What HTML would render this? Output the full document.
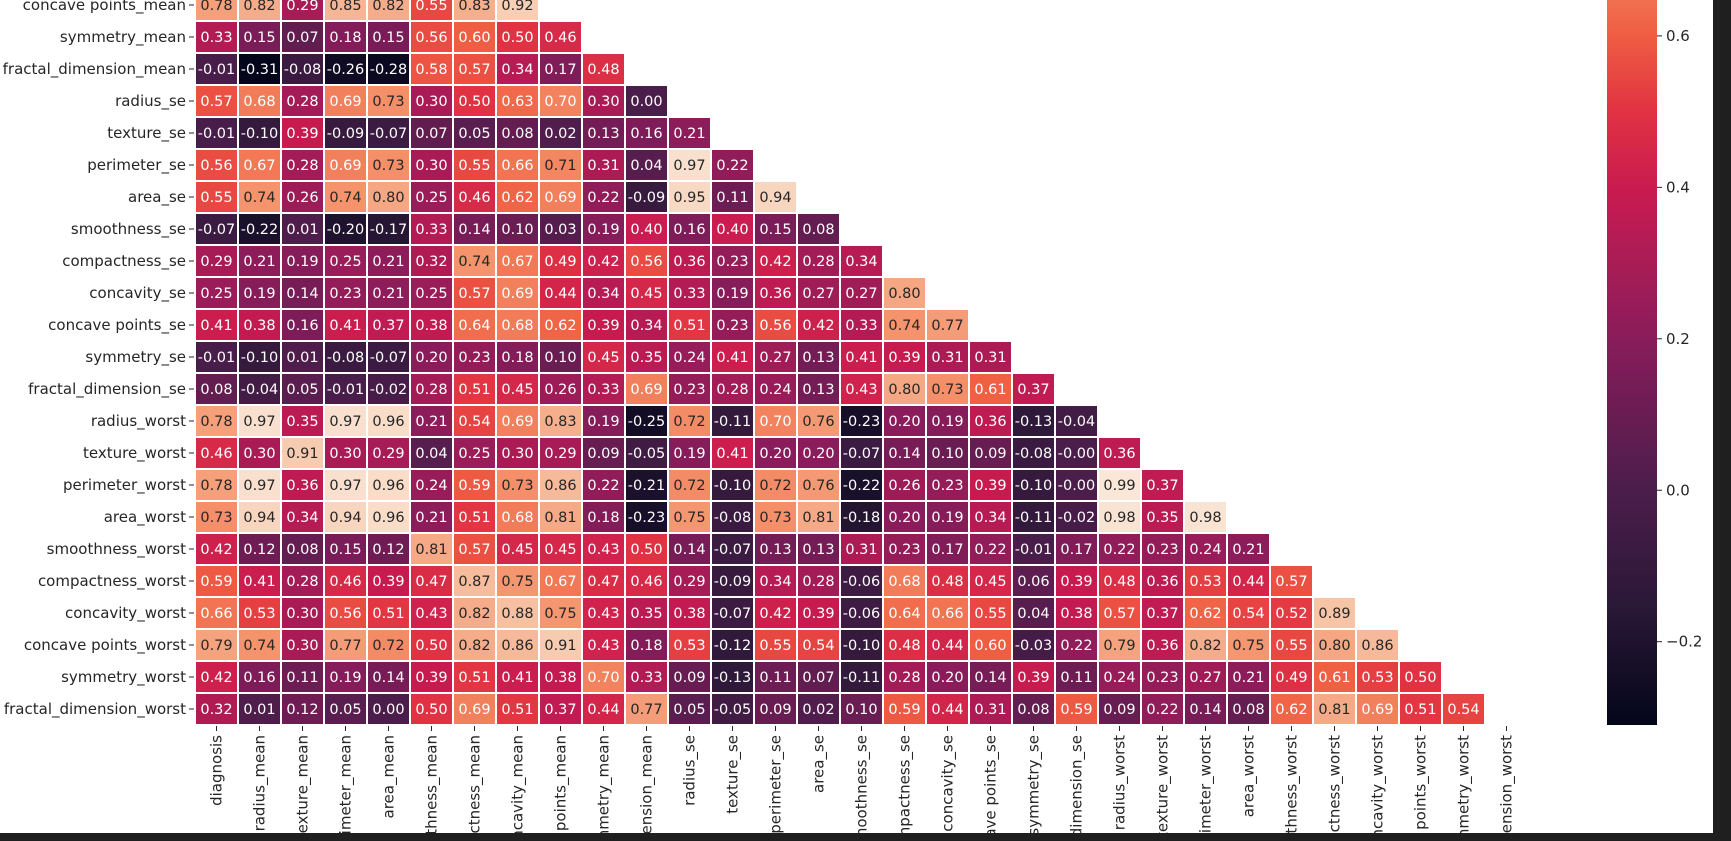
<!DOCTYPE html>
<html><head><meta charset="utf-8"><style>
html,body{margin:0;padding:0;background:#fff;width:1731px;height:841px;overflow:hidden}
svg{display:block}
text{font-family:"DejaVu Sans","Liberation Sans",sans-serif}
</style></head><body>
<svg id="chart" width="1731" height="841" xmlns="http://www.w3.org/2000/svg"></svg>
<script>
const varNames = ["diagnosis","radius_mean","texture_mean","perimeter_mean","area_mean","smoothness_mean","compactness_mean","concavity_mean","concave points_mean","symmetry_mean","fractal_dimension_mean","radius_se","texture_se","perimeter_se","area_se","smoothness_se","compactness_se","concavity_se","concave points_se","symmetry_se","fractal_dimension_se","radius_worst","texture_worst","perimeter_worst","area_worst","smoothness_worst","compactness_worst","concavity_worst","concave points_worst","symmetry_worst","fractal_dimension_worst"];
const firstRow = 8;
const rowValues = [
[0.78,0.82,0.29,0.85,0.82,0.55,0.83,0.92],
[0.33,0.15,0.07,0.18,0.15,0.56,0.60,0.50,0.46],
[-0.01,-0.31,-0.08,-0.26,-0.28,0.58,0.57,0.34,0.17,0.48],
[0.57,0.68,0.28,0.69,0.73,0.30,0.50,0.63,0.70,0.30,0.00],
[-0.01,-0.10,0.39,-0.09,-0.07,0.07,0.05,0.08,0.02,0.13,0.16,0.21],
[0.56,0.67,0.28,0.69,0.73,0.30,0.55,0.66,0.71,0.31,0.04,0.97,0.22],
[0.55,0.74,0.26,0.74,0.80,0.25,0.46,0.62,0.69,0.22,-0.09,0.95,0.11,0.94],
[-0.07,-0.22,0.01,-0.20,-0.17,0.33,0.14,0.10,0.03,0.19,0.40,0.16,0.40,0.15,0.08],
[0.29,0.21,0.19,0.25,0.21,0.32,0.74,0.67,0.49,0.42,0.56,0.36,0.23,0.42,0.28,0.34],
[0.25,0.19,0.14,0.23,0.21,0.25,0.57,0.69,0.44,0.34,0.45,0.33,0.19,0.36,0.27,0.27,0.80],
[0.41,0.38,0.16,0.41,0.37,0.38,0.64,0.68,0.62,0.39,0.34,0.51,0.23,0.56,0.42,0.33,0.74,0.77],
[-0.01,-0.10,0.01,-0.08,-0.07,0.20,0.23,0.18,0.10,0.45,0.35,0.24,0.41,0.27,0.13,0.41,0.39,0.31,0.31],
[0.08,-0.04,0.05,-0.01,-0.02,0.28,0.51,0.45,0.26,0.33,0.69,0.23,0.28,0.24,0.13,0.43,0.80,0.73,0.61,0.37],
[0.78,0.97,0.35,0.97,0.96,0.21,0.54,0.69,0.83,0.19,-0.25,0.72,-0.11,0.70,0.76,-0.23,0.20,0.19,0.36,-0.13,-0.04],
[0.46,0.30,0.91,0.30,0.29,0.04,0.25,0.30,0.29,0.09,-0.05,0.19,0.41,0.20,0.20,-0.07,0.14,0.10,0.09,-0.08,-0.00,0.36],
[0.78,0.97,0.36,0.97,0.96,0.24,0.59,0.73,0.86,0.22,-0.21,0.72,-0.10,0.72,0.76,-0.22,0.26,0.23,0.39,-0.10,-0.00,0.99,0.37],
[0.73,0.94,0.34,0.94,0.96,0.21,0.51,0.68,0.81,0.18,-0.23,0.75,-0.08,0.73,0.81,-0.18,0.20,0.19,0.34,-0.11,-0.02,0.98,0.35,0.98],
[0.42,0.12,0.08,0.15,0.12,0.81,0.57,0.45,0.45,0.43,0.50,0.14,-0.07,0.13,0.13,0.31,0.23,0.17,0.22,-0.01,0.17,0.22,0.23,0.24,0.21],
[0.59,0.41,0.28,0.46,0.39,0.47,0.87,0.75,0.67,0.47,0.46,0.29,-0.09,0.34,0.28,-0.06,0.68,0.48,0.45,0.06,0.39,0.48,0.36,0.53,0.44,0.57],
[0.66,0.53,0.30,0.56,0.51,0.43,0.82,0.88,0.75,0.43,0.35,0.38,-0.07,0.42,0.39,-0.06,0.64,0.66,0.55,0.04,0.38,0.57,0.37,0.62,0.54,0.52,0.89],
[0.79,0.74,0.30,0.77,0.72,0.50,0.82,0.86,0.91,0.43,0.18,0.53,-0.12,0.55,0.54,-0.10,0.48,0.44,0.60,-0.03,0.22,0.79,0.36,0.82,0.75,0.55,0.80,0.86],
[0.42,0.16,0.11,0.19,0.14,0.39,0.51,0.41,0.38,0.70,0.33,0.09,-0.13,0.11,0.07,-0.11,0.28,0.20,0.14,0.39,0.11,0.24,0.23,0.27,0.21,0.49,0.61,0.53,0.50],
[0.32,0.01,0.12,0.05,0.00,0.50,0.69,0.51,0.37,0.44,0.77,0.05,-0.05,0.09,0.02,0.10,0.59,0.44,0.31,0.08,0.59,0.09,0.22,0.14,0.08,0.62,0.81,0.69,0.51,0.54]
];
const colorbarTicks = [1.0,0.8,0.6,0.4,0.2,0.0,-0.2];
const vmin = -0.31, vmax = 1.0;

const NS = "http://www.w3.org/2000/svg";
const svg = document.getElementById('chart');
const X0 = 195, CW = 43, Y0 = -267, RH = 32;
const xPos = c => X0 + c*CW;
const yPos = r => Y0 + r*RH;
const stops = [[0,[3,5,26]],[0.12,[42,24,55]],[0.24,[76,29,75]],[0.39,[138,28,91]],[0.54,[201,27,80]],[0.62,[225,51,66]],[0.70,[240,96,67]],[0.80,[244,146,107]],[0.90,[246,188,156]],[1,[250,235,221]]];
function cmap(v){
  let t=(v-vmin)/(vmax-vmin); t=Math.max(0,Math.min(1,t));
  for(let i=1;i<stops.length;i++){ if(t<=stops[i][0]){ const a=stops[i-1],b=stops[i]; const f=(t-a[0])/(b[0]-a[0]);
    return 'rgb('+a[1].map((c,k)=>Math.round(c+(b[1][k]-c)*f)).join(',')+')'; } }
  return 'rgb(250,235,221)';
}
function mk(tag, attrs, parent){ const e=document.createElementNS(NS,tag); for(const k in attrs) e.setAttribute(k,attrs[k]); (parent||svg).appendChild(e); return e; }

const defs = mk('defs',{});
const clip = document.createElementNS(NS,'clipPath');
clip.setAttribute('id','frameClip');
const cr = document.createElementNS(NS,'rect');
cr.setAttribute('x','0'); cr.setAttribute('y','0'); cr.setAttribute('width','1731'); cr.setAttribute('height','833');
clip.appendChild(cr); defs.appendChild(clip);
const grad = document.createElementNS(NS,'linearGradient');
grad.setAttribute('id','cbg'); grad.setAttribute('x1','0'); grad.setAttribute('y1','1'); grad.setAttribute('x2','0'); grad.setAttribute('y2','0');
stops.forEach(s => { const st=document.createElementNS(NS,'stop'); st.setAttribute('offset',s[0]); st.setAttribute('stop-color','rgb('+s[1].join(',')+')'); grad.appendChild(st); });
defs.appendChild(grad);

const main = mk('g',{'clip-path':'url(#frameClip)'});



function fmt(v){ const s=v.toFixed(2); return (Object.is(v,-0) ? '-' : '') + s; }

rowValues.forEach((vals, i) => {
  const r = firstRow + i;
  vals.forEach((v, c) => {
    const rect = mk('rect',{x:xPos(c)+1,y:yPos(r)+1,width:CW-2,height:RH-2,fill:cmap(v)}, main);
    
    
    const t = mk('text',{x:xPos(c)+CW/2,y:yPos(r)+RH/2+5,'text-anchor':'middle','font-size':'14.5',fill: v>0.705 ? '#262626' : '#ffffff'}, main);
    t.textContent = fmt(v);
    
    
  });
  const yl = mk('text',{x:186,y:yPos(r)+RH/2+5,'text-anchor':'end','font-size':'15',fill:'#262626'}, main);
  yl.textContent = varNames[r];
  
  
  const tk = mk('line',{x1:189,x2:194,y1:yPos(r)+RH/2,y2:yPos(r)+RH/2,stroke:'#262626','stroke-width':1}, main);
  
  
});
varNames.forEach((n, c) => {
  const cx = xPos(c)+CW/2;
  const tk = mk('line',{x1:cx,x2:cx,y1:726,y2:731,stroke:'#262626','stroke-width':1}, main);
  
  
  const t = mk('text',{x:0,y:0,'text-anchor':'end','font-size':'15',fill:'#262626',transform:'translate('+(cx+5)+',735) rotate(-90)'}, main);
  t.textContent = n;
  
  
});
const CB_X=1607, CB_W=50, CB_TOP=Y0, CB_BOT=Y0+31*RH;
const cbY = v => CB_BOT - (v-vmin)/(vmax-vmin)*(CB_BOT-CB_TOP);
const cb = mk('rect',{x:CB_X,y:CB_TOP,width:CB_W,height:CB_BOT-CB_TOP,fill:'url(#cbg)'}, main);


colorbarTicks.forEach(v => {
  const y = cbY(v);
  const l = mk('line',{x1:CB_X+CB_W,x2:CB_X+CB_W+5,y1:y,y2:y,stroke:'#262626','stroke-width':1}, main);
  
  
  const t = mk('text',{x:CB_X+CB_W+9,y:y+5,'font-size':'15',fill:'#262626'}, main);
  t.textContent = v<0 ? '\u2212'+Math.abs(v).toFixed(1) : v.toFixed(1);
  
  
});
const rp = mk('rect',{x:1713,y:0,width:18,height:841,fill:'#1f1f1f'});


const bp = mk('rect',{x:0,y:833,width:1731,height:8,fill:'#1f1f1f'});


</script>
</body></html>
